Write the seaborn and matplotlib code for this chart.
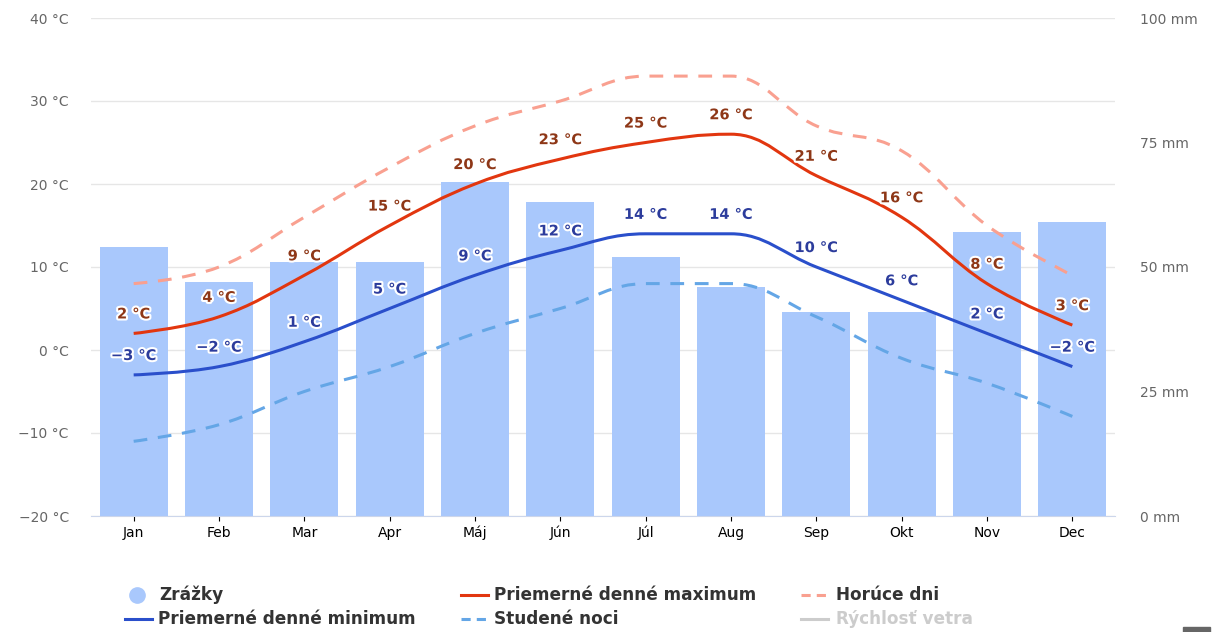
import matplotlib
matplotlib.use('Agg')
import matplotlib.pyplot as plt
import matplotlib.patheffects as pe
import numpy as np
import pandas as pd
import seaborn as sns
from matplotlib.lines import Line2D
from matplotlib.patches import PathPatch, Rectangle
from matplotlib.path import Path

months = ['Jan', 'Feb', 'Mar', 'Apr', 'Máj', 'Jún', 'Júl', 'Aug', 'Sep', 'Okt', 'Nov', 'Dec']
precip = [54, 47, 51, 51, 67, 63, 52, 46, 41, 41, 57, 59]
t_max = [2, 4, 9, 15, 20, 23, 25, 26, 21, 16, 8, 3]
t_min = [-3, -2, 1, 5, 9, 12, 14, 14, 10, 6, 2, -2]
hot_days = [8, 10, 16, 22, 27, 30, 33, 33, 27, 24, 15, 9]
cold_nights = [-11, -9, -5, -2, 2, 5, 8, 8, 4, -1, -4, -8]
temp_ticks = [-20, -10, 0, 10, 20, 30, 40]
mm_ticks = [0, 25, 50, 75, 100]

BAR = '#a9c8fc'
RED = '#e2360f'
BLUE = '#2a4fcb'
SALMON = '#f9a090'
LBLUE = '#64a6e6'
TXT = '#666666'


def spline(xs, ys):
    # highcharts-like spline: bezier control points from neighbours
    n = len(xs)

    def conts(i):
        px, py = xs[i], ys[i]
        lx, ly = xs[i - 1], ys[i - 1]
        nx, ny = xs[i + 1], ys[i + 1]
        lcx, lcy = (1.5 * px + lx) / 2.5, (1.5 * py + ly) / 2.5
        rcx, rcy = (1.5 * px + nx) / 2.5, (1.5 * py + ny) / 2.5
        corr = (rcy - lcy) * (rcx - px) / (rcx - lcx) + py - rcy
        lcy += corr
        rcy += corr
        if lcy > max(ly, py):
            lcy = max(ly, py); rcy = 2 * py - lcy
        elif lcy < min(ly, py):
            lcy = min(ly, py); rcy = 2 * py - lcy
        if rcy > max(py, ny):
            rcy = max(py, ny); lcy = 2 * py - rcy
        elif rcy < min(py, ny):
            rcy = min(py, ny); lcy = 2 * py - rcy
        return (lcx, lcy), (rcx, rcy)

    verts = [(xs[0], ys[0])]
    codes = [Path.MOVETO]
    for i in range(1, n):
        c1 = (xs[i - 1], ys[i - 1]) if i - 1 == 0 else conts(i - 1)[1]
        c2 = (xs[i], ys[i]) if i == n - 1 else conts(i)[0]
        verts += [c1, c2, (xs[i], ys[i])]
        codes += [Path.CURVE4] * 3
    return Path(verts, codes)


def fmt(v, unit):
    return f'{v} {unit}'.replace('-', '\u2212')


df = pd.DataFrame({'month': months, 'precip': precip})

fig = plt.figure(figsize=(12.22, 6.32), dpi=100)
rect = [91 / 1222, 1 - 516 / 632, (1115 - 91) / 1222, (516 - 18) / 632]
ax = fig.add_axes(rect)
ax2 = ax.twinx()
ax3 = ax.twinx()

# grid + left axis
ax.set_ylim(-20, 40)
ax.set_yticks(temp_ticks)
ax.set_yticklabels([fmt(t, '°C') for t in temp_ticks])
ax.grid(axis='y', color='#e6e6e6', linewidth=1)
ax.tick_params(axis='y', length=0, pad=16, labelsize=10, labelcolor=TXT)

# bars
sns.barplot(data=df, x='month', y='precip', ax=ax2, color=BAR, saturation=1, width=0.8)
ax2.set_ylim(0, 100)
ax2.set_yticks(mm_ticks)
ax2.set_yticklabels([f'{m} mm' for m in mm_ticks])
ax2.tick_params(axis='y', length=0, pad=18, labelsize=10, labelcolor=TXT)
ax2.tick_params(axis='x', length=0, pad=13, labelsize=10, labelcolor=TXT)
ax2.set_xlabel('')
ax2.set_ylabel('')
ax2.set_xlim(-0.5, len(months) - 0.5)

# temperature lines
ax3.set_ylim(-20, 40)
ax3.set_yticks([])
xs = list(range(len(months)))
for vals, col, ls in [(hot_days, SALMON, (0, (4.5, 3.5))),
                      (cold_nights, LBLUE, (0, (4.5, 3.5))),
                      (t_max, RED, '-'),
                      (t_min, BLUE, '-')]:
    ax3.add_patch(PathPatch(spline(xs, vals), facecolor='none', edgecolor=col,
                            linewidth=2.2, linestyle=ls, capstyle='butt'))

stroke = [pe.withStroke(linewidth=3, foreground='white')]
for vals, col in [(t_max, '#8e3717'), (t_min, '#2c3c9c')]:
    for x, v in zip(xs, vals):
        ax3.annotate(fmt(v, '°C'), (x, v), xytext=(0, 14), textcoords='offset points',
                     ha='center', va='center', fontsize=10.5, fontweight='bold',
                     color=col, path_effects=stroke, zorder=5)

for a in (ax, ax2, ax3):
    for s in a.spines.values():
        s.set_visible(False)
ax2.spines['bottom'].set_visible(True)
ax2.spines['bottom'].set_color('#ccd6eb')

ax.set_zorder(0)
ax2.set_zorder(1)
ax3.set_zorder(2)
ax2.patch.set_visible(False)
ax3.patch.set_visible(False)

# legend
def fx(px):
    return px / 1222


def fy(py):
    return 1 - py / 632


legend_items = [
    ('Zrážky', 'dot', BAR, '-', 137, 159, 595, '#333333'),
    ('Priemerné denné maximum', 'line', RED, '-', 461, 494, 595, '#333333'),
    ('Horúce dni', 'line', SALMON, (0, (3, 2)), 801, 836, 595, '#333333'),
    ('Priemerné denné minimum', 'line', BLUE, '-', 125, 158, 619, '#333333'),
    ('Studené noci', 'line', LBLUE, (0, (3, 2)), 461, 494, 619, '#333333'),
    ('Rýchlosť vetra', 'line', '#cccccc', '-', 801, 836, 619, '#cccccc'),
]
for label, kind, col, ls, hx, tx, yy, tcol in legend_items:
    if kind == 'dot':
        fig.add_artist(Line2D([fx(hx)], [fy(yy)], marker='o', markersize=11,
                              color=col, linestyle='none'))
    else:
        fig.add_artist(Line2D([fx(hx), fx(hx + 27)], [fy(yy), fy(yy)], color=col,
                              linewidth=2.2, linestyle=ls))
    fig.text(fx(tx), fy(yy), label, ha='left', va='center', fontsize=12.2,
             fontweight='bold', color=tcol)

# menu icon stub, bottom right
fig.add_artist(Rectangle((fx(1183), 0), fx(27), 5 / 632, color='#666666'))

fig.savefig('out.png', dpi=100)
